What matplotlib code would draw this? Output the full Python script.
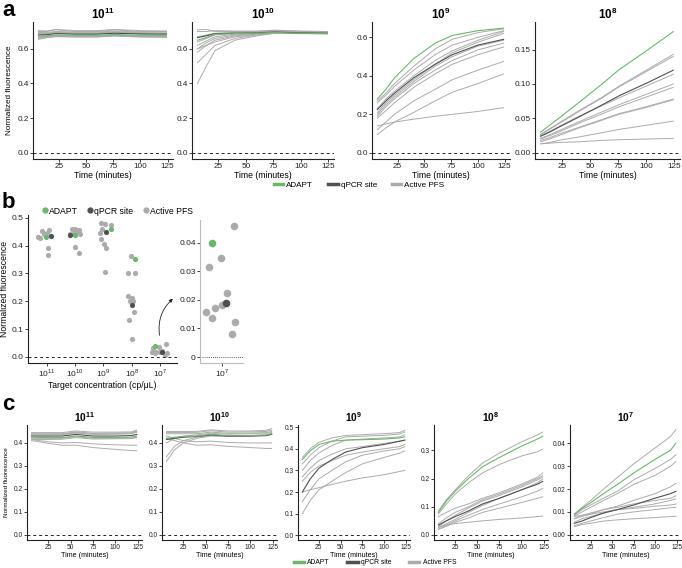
import numpy as np
import matplotlib.pyplot as plt
from matplotlib.lines import Line2D

plt.rcParams['font.family'] = ['Liberation Sans', 'DejaVu Sans']
plt.rcParams['mathtext.fontset'] = 'custom'
plt.rcParams['mathtext.rm'] = 'Liberation Sans'
plt.rcParams['mathtext.bf'] = 'Liberation Sans:bold'

W, H = 682, 568
GREEN = '#67b96a'
DARK = '#505050'
GRAY = '#ababab'
INK = '#222222'

# ---- panel a: time courses (ADAPT, qPCR site, active PFS) ----
time_a = [6, 14, 22, 40, 60, 76, 100, 124]

a11_adapt = [0.675, 0.675, 0.680, 0.678, 0.678, 0.683, 0.678, 0.678]
a11_qpcr = [0.680, 0.682, 0.688, 0.685, 0.685, 0.690, 0.686, 0.685]
a11_pfs = [
    [0.700, 0.700, 0.710, 0.700, 0.700, 0.710, 0.700, 0.700],
    [0.695, 0.695, 0.700, 0.697, 0.697, 0.703, 0.697, 0.697],
    [0.690, 0.690, 0.695, 0.690, 0.690, 0.697, 0.690, 0.690],
    [0.685, 0.686, 0.690, 0.686, 0.686, 0.692, 0.687, 0.686],
    [0.670, 0.672, 0.677, 0.673, 0.673, 0.679, 0.673, 0.672],
    [0.665, 0.667, 0.672, 0.668, 0.668, 0.674, 0.668, 0.667],
    [0.655, 0.665, 0.675, 0.672, 0.672, 0.678, 0.672, 0.670],
    [0.705, 0.703, 0.712, 0.705, 0.705, 0.712, 0.705, 0.703],
    [0.660, 0.665, 0.670, 0.670, 0.670, 0.675, 0.670, 0.668],
    [0.690, 0.688, 0.693, 0.693, 0.692, 0.699, 0.693, 0.690],
]

a10_adapt = [0.650, 0.665, 0.685, 0.688, 0.690, 0.695, 0.690, 0.688]
a10_qpcr = [0.665, 0.675, 0.688, 0.690, 0.692, 0.697, 0.692, 0.690]
a10_pfs = [
    [0.400, 0.500, 0.590, 0.650, 0.675, 0.690, 0.690, 0.688],
    [0.520, 0.570, 0.620, 0.660, 0.680, 0.692, 0.690, 0.688],
    [0.580, 0.620, 0.650, 0.675, 0.685, 0.695, 0.692, 0.690],
    [0.600, 0.635, 0.660, 0.680, 0.688, 0.697, 0.693, 0.690],
    [0.620, 0.645, 0.670, 0.685, 0.690, 0.698, 0.694, 0.692],
    [0.640, 0.660, 0.680, 0.690, 0.692, 0.699, 0.695, 0.693],
    [0.670, 0.680, 0.690, 0.695, 0.697, 0.703, 0.698, 0.696],
    [0.700, 0.700, 0.705, 0.703, 0.703, 0.708, 0.703, 0.700],
    [0.710, 0.712, 0.700, 0.700, 0.700, 0.705, 0.700, 0.698],
    [0.600, 0.620, 0.640, 0.670, 0.680, 0.690, 0.688, 0.686],
]

a9_adapt = [0.280, 0.330, 0.390, 0.490, 0.570, 0.610, 0.635, 0.648]
a9_qpcr = [0.225, 0.270, 0.310, 0.390, 0.460, 0.510, 0.560, 0.590]
a9_pfs = [
    [0.270, 0.310, 0.360, 0.450, 0.540, 0.590, 0.625, 0.645],
    [0.260, 0.300, 0.345, 0.430, 0.510, 0.560, 0.600, 0.635],
    [0.230, 0.280, 0.320, 0.400, 0.480, 0.530, 0.585, 0.630],
    [0.210, 0.260, 0.300, 0.380, 0.460, 0.520, 0.575, 0.620],
    [0.200, 0.250, 0.290, 0.370, 0.450, 0.500, 0.555, 0.585],
    [0.190, 0.240, 0.280, 0.360, 0.430, 0.480, 0.535, 0.570],
    [0.180, 0.220, 0.260, 0.340, 0.410, 0.460, 0.510, 0.550],
    [0.120, 0.160, 0.200, 0.270, 0.330, 0.380, 0.430, 0.475],
    [0.095, 0.130, 0.160, 0.210, 0.270, 0.315, 0.360, 0.410],
    [0.140, 0.150, 0.160, 0.175, 0.190, 0.200, 0.215, 0.235],
]

a8_adapt = [0.030, 0.040, 0.050, 0.073, 0.099, 0.121, 0.148, 0.176]
a8_qpcr = [0.024, 0.030, 0.037, 0.052, 0.069, 0.083, 0.101, 0.120]
a8_pfs = [
    [0.027, 0.035, 0.043, 0.061, 0.080, 0.097, 0.120, 0.143],
    [0.026, 0.034, 0.042, 0.060, 0.079, 0.096, 0.118, 0.140],
    [0.025, 0.031, 0.038, 0.053, 0.068, 0.080, 0.097, 0.114],
    [0.021, 0.026, 0.032, 0.045, 0.059, 0.070, 0.085, 0.100],
    [0.020, 0.025, 0.030, 0.043, 0.056, 0.067, 0.081, 0.095],
    [0.018, 0.022, 0.027, 0.037, 0.048, 0.057, 0.067, 0.078],
    [0.016, 0.020, 0.025, 0.036, 0.047, 0.056, 0.066, 0.077],
    [0.013, 0.015, 0.018, 0.023, 0.029, 0.034, 0.040, 0.046],
    [0.013, 0.014, 0.015, 0.016, 0.018, 0.019, 0.020, 0.021],
]

# ---- panel b: end-point fluorescence per concentration ----
b_exponents = ['11', '10', '9', '8', '7']
b_adapt = [0.432, 0.437, 0.458, 0.351, 0.040]
b_adapt_dx = [-0.05, -0.02, 0.25, 0.10, -0.18]
b_qpcr = [0.435, 0.437, 0.449, 0.187, 0.019]
b_qpcr_dx = [0.16, -0.18, 0.10, 0.02, 0.07]
b_pfs = [
    [0.452, 0.455, 0.426, 0.440, 0.446, 0.390, 0.365, 0.430],
    [0.458, 0.460, 0.456, 0.440, 0.440, 0.450, 0.446, 0.396, 0.373],
    [0.482, 0.476, 0.474, 0.458, 0.446, 0.423, 0.405, 0.390, 0.304],
    [0.363, 0.301, 0.301, 0.218, 0.211, 0.200, 0.200, 0.161, 0.131, 0.065],
    [0.0347, 0.0315, 0.0225, 0.0182, 0.0171, 0.0158, 0.0138, 0.0122, 0.0081, 0.046],
]
b_pfs_dx = [
    [-0.19, 0.07, -0.25, -0.12, 0.00, 0.02, 0.02, -0.30],
    [-0.10, 0.00, 0.12, -0.18, 0.18, 0.06, -0.05, -0.02, 0.12],
    [-0.10, 0.07, 0.28, -0.05, -0.14, -0.10, 0.01, 0.10, 0.05],
    [-0.04, -0.13, 0.10, -0.15, 0.01, -0.07, 0.05, 0.08, -0.09, 0.02],
    [-0.02, -0.24, 0.085, 0.005, -0.13, -0.30, -0.19, 0.24, 0.18, 0.21],
]

# ---- panel c: time courses, second dataset ----
time_c = [6, 15, 25, 40, 56, 75, 100, 118, 124]

c11_adapt = [0.425, 0.424, 0.423, 0.423, 0.430, 0.424, 0.424, 0.425, 0.430]
c11_qpcr = [0.430, 0.430, 0.430, 0.430, 0.437, 0.430, 0.430, 0.432, 0.437]
c11_pfs = [
    [0.445, 0.445, 0.445, 0.445, 0.452, 0.447, 0.447, 0.448, 0.456],
    [0.440, 0.440, 0.440, 0.440, 0.448, 0.442, 0.443, 0.444, 0.452],
    [0.435, 0.435, 0.435, 0.436, 0.443, 0.437, 0.438, 0.440, 0.447],
    [0.438, 0.438, 0.438, 0.438, 0.445, 0.440, 0.440, 0.442, 0.448],
    [0.420, 0.420, 0.420, 0.420, 0.427, 0.420, 0.420, 0.421, 0.425],
    [0.415, 0.415, 0.415, 0.416, 0.423, 0.417, 0.418, 0.419, 0.423],
    [0.415, 0.410, 0.405, 0.400, 0.402, 0.396, 0.392, 0.390, 0.390],
    [0.410, 0.405, 0.398, 0.390, 0.390, 0.380, 0.372, 0.367, 0.366],
]

c10_adapt = [0.420, 0.425, 0.428, 0.430, 0.437, 0.432, 0.432, 0.434, 0.440]
c10_qpcr = [0.415, 0.420, 0.425, 0.428, 0.435, 0.430, 0.430, 0.432, 0.438]
c10_pfs = [
    [0.450, 0.450, 0.450, 0.450, 0.457, 0.452, 0.452, 0.455, 0.462],
    [0.445, 0.445, 0.445, 0.446, 0.453, 0.447, 0.448, 0.450, 0.456],
    [0.440, 0.440, 0.440, 0.440, 0.447, 0.442, 0.443, 0.445, 0.450],
    [0.320, 0.370, 0.400, 0.420, 0.430, 0.428, 0.430, 0.432, 0.436],
    [0.340, 0.385, 0.410, 0.425, 0.432, 0.430, 0.432, 0.434, 0.440],
    [0.400, 0.420, 0.430, 0.435, 0.442, 0.438, 0.440, 0.440, 0.446],
    [0.430, 0.420, 0.410, 0.405, 0.408, 0.402, 0.400, 0.400, 0.400],
    [0.420, 0.410, 0.400, 0.390, 0.392, 0.385, 0.380, 0.376, 0.376],
]

c9_adapt = [0.350, 0.390, 0.420, 0.435, 0.440, 0.442, 0.445, 0.450, 0.455]
c9_qpcr = [0.200, 0.260, 0.310, 0.350, 0.385, 0.405, 0.420, 0.435, 0.440]
c9_pfs = [
    [0.360, 0.400, 0.430, 0.450, 0.462, 0.465, 0.470, 0.475, 0.485],
    [0.330, 0.370, 0.405, 0.435, 0.455, 0.458, 0.462, 0.468, 0.478],
    [0.300, 0.345, 0.380, 0.415, 0.440, 0.445, 0.450, 0.455, 0.465],
    [0.270, 0.310, 0.345, 0.375, 0.400, 0.410, 0.425, 0.435, 0.440],
    [0.250, 0.290, 0.320, 0.345, 0.370, 0.385, 0.400, 0.410, 0.420],
    [0.155, 0.210, 0.260, 0.300, 0.340, 0.370, 0.390, 0.400, 0.410],
    [0.100, 0.160, 0.210, 0.250, 0.290, 0.330, 0.360, 0.380, 0.390],
    [0.200, 0.210, 0.220, 0.235, 0.250, 0.265, 0.280, 0.295, 0.300],
]

c8_adapt = [0.080, 0.120, 0.155, 0.200, 0.242, 0.275, 0.315, 0.340, 0.350]
c8_qpcr = [0.035, 0.050, 0.065, 0.085, 0.110, 0.130, 0.160, 0.180, 0.190]
c8_pfs = [
    [0.085, 0.125, 0.160, 0.210, 0.255, 0.290, 0.330, 0.355, 0.365],
    [0.075, 0.110, 0.145, 0.185, 0.220, 0.250, 0.280, 0.295, 0.305],
    [0.065, 0.080, 0.095, 0.110, 0.130, 0.150, 0.180, 0.205, 0.220],
    [0.040, 0.060, 0.080, 0.100, 0.125, 0.145, 0.175, 0.200, 0.210],
    [0.030, 0.050, 0.070, 0.095, 0.120, 0.140, 0.170, 0.195, 0.205],
    [0.025, 0.040, 0.055, 0.080, 0.105, 0.130, 0.160, 0.185, 0.198],
    [0.020, 0.035, 0.050, 0.070, 0.090, 0.110, 0.135, 0.155, 0.165],
    [0.020, 0.030, 0.045, 0.060, 0.080, 0.095, 0.115, 0.130, 0.135],
    [0.030, 0.035, 0.040, 0.045, 0.050, 0.055, 0.060, 0.065, 0.067],
]

c7_adapt = [0.0090, 0.0115, 0.0140, 0.0180, 0.0220, 0.0270, 0.0330, 0.0370, 0.0400]
c7_qpcr = [0.0050, 0.0060, 0.0075, 0.0095, 0.0110, 0.0130, 0.0160, 0.0180, 0.0190]
c7_pfs = [
    [0.0090, 0.0120, 0.0150, 0.0200, 0.0250, 0.0310, 0.0380, 0.0430, 0.0460],
    [0.0085, 0.0110, 0.0130, 0.0160, 0.0190, 0.0240, 0.0290, 0.0330, 0.0350],
    [0.0080, 0.0100, 0.0120, 0.0150, 0.0180, 0.0220, 0.0260, 0.0300, 0.0320],
    [0.0070, 0.0080, 0.0090, 0.0110, 0.0125, 0.0150, 0.0180, 0.0210, 0.0225],
    [0.0070, 0.0085, 0.0095, 0.0110, 0.0120, 0.0135, 0.0150, 0.0160, 0.0170],
    [0.0055, 0.0070, 0.0080, 0.0095, 0.0110, 0.0120, 0.0135, 0.0150, 0.0157],
    [0.0080, 0.0085, 0.0090, 0.0100, 0.0110, 0.0115, 0.0125, 0.0130, 0.0134],
    [0.0040, 0.0050, 0.0060, 0.0075, 0.0090, 0.0100, 0.0110, 0.0118, 0.0120],
    [0.0035, 0.0045, 0.0050, 0.0060, 0.0065, 0.0070, 0.0075, 0.0080, 0.0081],
]


def px_axes(fig, l, t, r, b):
    return fig.add_axes([l / W, 1 - b / H, (r - l) / W, (b - t) / H])


def style(ax, fs):
    for s in ['top', 'right']:
        ax.spines[s].set_visible(False)
    for s in ['left', 'bottom']:
        ax.spines[s].set_linewidth(0.8)
        ax.spines[s].set_color(INK)
    ax.tick_params(length=2, width=0.6, labelsize=fs, colors=INK, pad=1)


def draw_lines(ax, t, adapt, qpcr, pfs, fs, title, ylim, yticks, ylabels):
    for y in pfs:
        ax.plot(t, y, color=GRAY, lw=0.7)
    ax.plot(t, qpcr, color=DARK, lw=0.8)
    ax.plot(t, adapt, color=GREEN, lw=0.8)
    ax.axhline(0, color=INK, lw=0.7, ls=(0, (3, 3)))
    ax.set_xlim(1, 130)
    ax.set_xticks([25, 50, 75, 100, 125])
    ax.set_ylim(*ylim)
    ax.set_yticks(yticks)
    ax.set_yticklabels(ylabels)
    style(ax, fs)
    ax.set_xlabel('Time (minutes)', fontsize=fs + 0.3, labelpad=0.5)
    ax.set_title(r'$\mathbf{10^{%s}}$' % title, fontsize=fs + 2.5, pad=2)


fig = plt.figure(figsize=(W / 100, H / 100), dpi=100)

# ---- a ----
fa = 5.9
lab6 = ['0.0', '0.2', '0.4', '0.6']
ax = px_axes(fig, 33, 22, 173, 159)
draw_lines(ax, time_a, a11_adapt, a11_qpcr, a11_pfs, fa, '11', (-0.036, 0.755), [0, 0.2, 0.4, 0.6], lab6)
ax.set_ylabel('Normalized fluorescence', fontsize=5.9, labelpad=3)
ax = px_axes(fig, 192, 22, 334, 159)
draw_lines(ax, time_a, a10_adapt, a10_qpcr, a10_pfs, fa, '10', (-0.036, 0.755), [0, 0.2, 0.4, 0.6], lab6)
ax = px_axes(fig, 372, 22, 510, 159)
draw_lines(ax, time_a, a9_adapt, a9_qpcr, a9_pfs, fa, '9', (-0.032, 0.68), [0, 0.2, 0.4, 0.6], lab6)
ax = px_axes(fig, 535, 22, 680, 159)
draw_lines(ax, time_a, a8_adapt, a8_qpcr, a8_pfs, fa, '8', (-0.009, 0.19),
           [0, 0.05, 0.10, 0.15], ['0.00', '0.05', '0.10', '0.15'])

handles = [Line2D([], [], color=c, lw=2.5) for c in [GREEN, DARK, GRAY]]
fig.legend(handles, ['ADAPT', 'qPCR site', 'Active PFS'], ncol=3, loc='center',
           bbox_to_anchor=(359 / W, 1 - 185 / H), frameon=False, fontsize=5.9,
           handlelength=1.2, columnspacing=1.8, handletextpad=0.35, borderpad=0)

# ---- b ----
fb = 6
axb = px_axes(fig, 28, 215, 177, 363)
for i in range(len(b_exponents)):
    axb.scatter(i + np.array(b_pfs_dx[i]), b_pfs[i], s=14, color=GRAY, lw=0, zorder=2)
    axb.scatter(i + b_qpcr_dx[i], b_qpcr[i], s=14, color=DARK, lw=0, zorder=3)
    axb.scatter(i + b_adapt_dx[i], b_adapt[i], s=14, color=GREEN, lw=0, zorder=3)
axb.axhline(0, color=INK, lw=0.7, ls=(0, (3, 3)))
axb.set_xlim(-0.67, 4.6)
axb.set_ylim(-0.022, 0.51)
axb.set_xticks(range(len(b_exponents)))
axb.set_xticklabels([r'$10^{%s}$' % e for e in b_exponents])
axb.set_yticks([0, 0.1, 0.2, 0.3, 0.4, 0.5])
axb.set_yticklabels(['0.0', '0.1', '0.2', '0.3', '0.4', '0.5'])
style(axb, fb)
axb.set_xlabel('Target concentration (cp/\u03bcL)', fontsize=6.2, labelpad=1)
axb.set_ylabel('Normalized fluorescence', fontsize=6.2, labelpad=2)

axi = px_axes(fig, 200, 220, 243, 363)
axi.scatter(b_pfs_dx[4], b_pfs[4], s=30, color=GRAY, lw=0, zorder=2)
axi.scatter(b_qpcr_dx[4], b_qpcr[4], s=30, color=DARK, lw=0, zorder=3)
axi.scatter(b_adapt_dx[4], b_adapt[4], s=30, color=GREEN, lw=0, zorder=3)
axi.axhline(0, color=INK, lw=0.6, ls=(0, (1, 1.5)))
axi.set_xlim(-0.4, 0.38)
axi.set_ylim(-0.0021, 0.048)
axi.set_xticks([0])
axi.set_xticklabels([r'$10^{7}$'])
axi.set_yticks([0, 0.01, 0.02, 0.03, 0.04])
axi.set_yticklabels(['0', '0.01', '0.02', '0.03', '0.04'])
style(axi, fb)
axi.spines['left'].set_color('#bbbbbb')
axi.spines['bottom'].set_color('#bbbbbb')

axb.annotate('', xy=(175, H - 297), xycoords='figure pixels',
             xytext=(160, H - 338), textcoords='figure pixels',
             arrowprops=dict(arrowstyle='-|>', color=INK, lw=0.6, mutation_scale=5,
                             connectionstyle='arc3,rad=-0.3'))

pts = [Line2D([], [], ls='', marker='o', ms=4.5, mec='none', color=c) for c in [GREEN, DARK, GRAY]]
fig.legend(pts, ['ADAPT', 'qPCR site', 'Active PFS'], ncol=3, loc='center left',
           bbox_to_anchor=(38 / W, 1 - 211 / H), frameon=False, fontsize=6.2,
           handlelength=0.6, columnspacing=1.1, handletextpad=0.2, borderpad=0)

# ---- c ----
fc = 4.8
lab4 = ['0.0', '0.1', '0.2', '0.3', '0.4']
ax = px_axes(fig, 27, 425, 142, 540)
draw_lines(ax, time_c, c11_adapt, c11_qpcr, c11_pfs, fc, '11', (-0.022, 0.478), [0, 0.1, 0.2, 0.3, 0.4], lab4)
ax.set_ylabel('Normalized fluorescence', fontsize=4.6, labelpad=3)
ax = px_axes(fig, 162, 425, 277, 540)
draw_lines(ax, time_c, c10_adapt, c10_qpcr, c10_pfs, fc, '10', (-0.022, 0.478), [0, 0.1, 0.2, 0.3, 0.4], lab4)
ax = px_axes(fig, 298, 425, 410, 540)
draw_lines(ax, time_c, c9_adapt, c9_qpcr, c9_pfs, fc, '9', (-0.022, 0.51),
           [0, 0.1, 0.2, 0.3, 0.4, 0.5], lab4 + ['0.5'])
ax = px_axes(fig, 434, 425, 548, 540)
draw_lines(ax, time_c, c8_adapt, c8_qpcr, c8_pfs, fc, '8', (-0.018, 0.39), [0, 0.1, 0.2, 0.3], lab4[:4])
ax = px_axes(fig, 570, 425, 681, 540)
draw_lines(ax, time_c, c7_adapt, c7_qpcr, c7_pfs, fc, '7', (-0.0023, 0.048),
           [0, 0.01, 0.02, 0.03, 0.04], ['0.00', '0.01', '0.02', '0.03', '0.04'])

fig.legend(handles, ['ADAPT', 'qPCR site', 'Active PFS'], ncol=3, loc='center',
           bbox_to_anchor=(375 / W, 1 - 563 / H), frameon=False, fontsize=4.9,
           handlelength=1.5, columnspacing=2.6, handletextpad=0.5, borderpad=0)

for label, x, y in [('a', 2, 10), ('b', 2, 202), ('c', 2, 404)]:
    fig.text(x / W, 1 - y / H, label, fontsize=16, fontweight='bold', va='center', ha='left')

fig.savefig('out.png', dpi=100)
